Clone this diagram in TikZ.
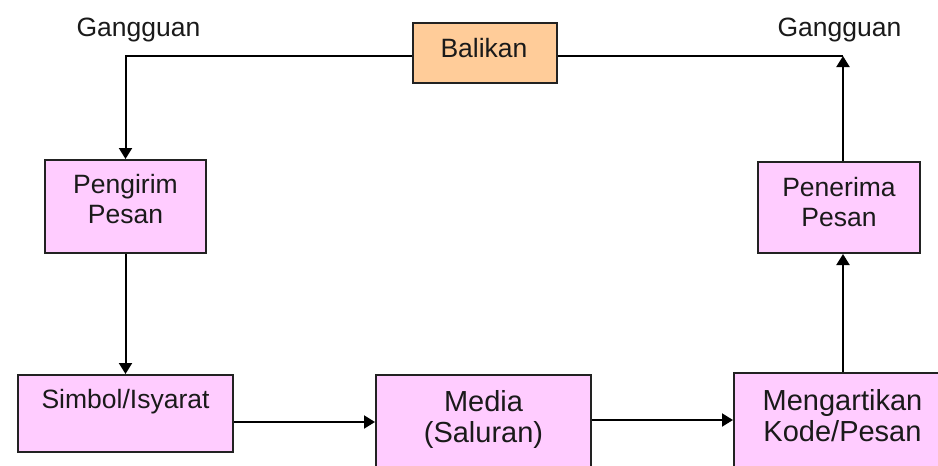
\documentclass[tikz,border=0pt]{standalone}
\usepackage{fontspec}
\setmainfont{Liberation Sans}
\usetikzlibrary{arrows.meta,calc}
\definecolor{pinkbox}{HTML}{FFCCFF}
\definecolor{orangebox}{HTML}{FFCC99}
\definecolor{edge}{HTML}{222222}
\definecolor{ink}{HTML}{1A1A1A}
\tikzset{
  box/.style={draw=edge, line width=2pt, rectangle, inner sep=0pt},
  lbl/.style={inner sep=0pt, align=center, text=ink, font=\fontsize{26.5}{30}\selectfont},
  biglbl/.style={inner sep=0pt, align=center, text=ink, font=\fontsize{29}{31}\selectfont},
  arr/.style={line width=2pt, draw=black, -{Triangle[length=11pt,width=13pt]}},
  ln/.style={line width=2pt, draw=black}
}
\begin{document}
\begin{tikzpicture}[x=1pt,y=-1pt]
\useasboundingbox (0,0) rectangle (938,466);
\clip (0,0) rectangle (938,466);
\fill[white] (0,0) rectangle (938,466);

% boxes
\node[box, fill=orangebox, minimum width=144pt, minimum height=60pt] (bal) at (485,53) {};
\node[box, fill=pinkbox, minimum width=161pt, minimum height=93pt] (pen) at (125.5,206.5) {};
\node[box, fill=pinkbox, minimum width=162pt, minimum height=91pt] (ter) at (839,207.5) {};
\node[box, fill=pinkbox, minimum width=215pt, minimum height=77pt] (sim) at (125.5,413.5) {};
\node[box, fill=pinkbox, minimum width=215pt, minimum height=93pt] (med) at (483.5,421.5) {};
\node[box, fill=pinkbox, minimum width=217pt, minimum height=95pt] (men) at (842.5,420.5) {};

% texts
\node[lbl] (tbal) at (484,48.5) {Balikan};
\node[lbl] (tpen) at (125.5,199.5) {Pengirim\\Pesan};
\node[lbl] (tter) at (839,202.5) {Penerima\\Pesan};
\node[lbl] (tsim) at (125.5,401.5) {Simbol/Isyarat};
\node[biglbl] (tmed) at (483.5,419) {Media\\(Saluran)};
\node[biglbl] (tmen) at (842.5,415.5) {Mengartikan\\Kode/Pesan};
\node[lbl] (g1) at (138.5,30) {Gangguan};
\node[lbl] (g2) at (839.5,30) {Gangguan};

% connectors
\coordinate (cr) at (843,56);
\draw[arr] ([yshift=-3pt]bal.west) -| (pen.north);
\draw[ln] ([yshift=-3pt]bal.east) -- (cr);
\draw[arr] (ter.north -| cr) -- (cr);
\draw[arr] (men.north -| cr) -- (ter.south -| cr);
\draw[arr] (pen.south) -- (sim.north);
\draw[arr] ([yshift=-8.5pt]sim.east) -- ([yshift=-8.5pt]sim.east -| med.west);
\draw[arr] ([yshift=1.5pt]med.east) -- ([yshift=1.5pt]med.east -| men.west);
\end{tikzpicture}
\end{document}
